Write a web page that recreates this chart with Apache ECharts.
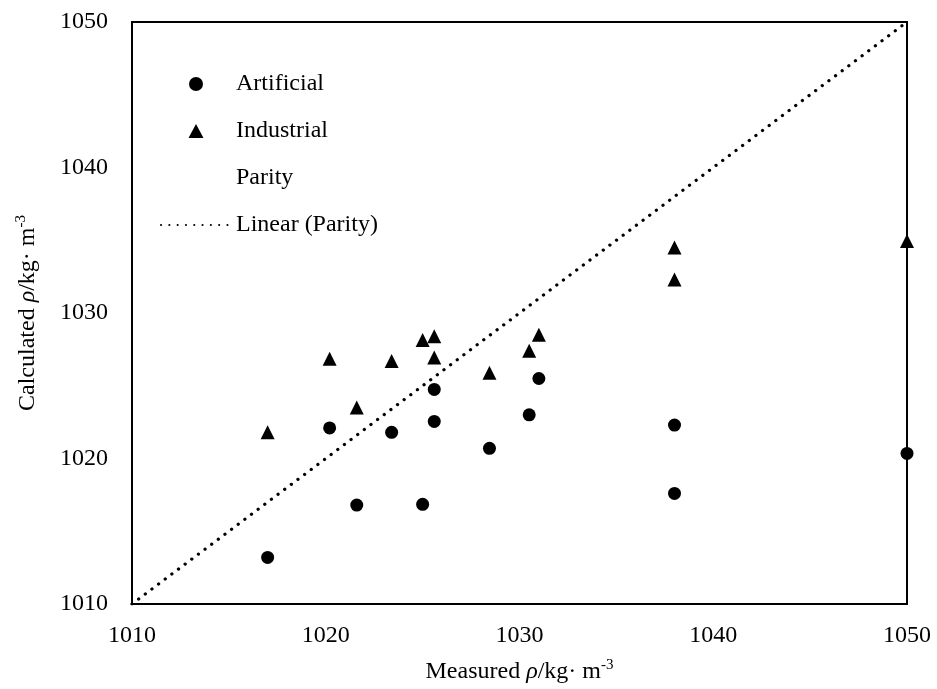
<!DOCTYPE html>
<html>
<head>
<meta charset="utf-8">
<title>Calculated vs measured density</title>
<script src="https://cdn.jsdelivr.net/npm/echarts@6/dist/echarts.min.js"></script>
<style>
  html, body { margin: 0; padding: 0; background: #fff; }
  #chart { width: 937px; height: 689px; }
</style>
</head>
<body>
<div id="chart"></div>
<script>
// Measured density of each sample (kg/m3), shared by both sample sets
const measured = [1017.0, 1020.2, 1021.6, 1023.4, 1025.0, 1025.6, 1025.6, 1028.45, 1030.5, 1031.0, 1038.0, 1038.0, 1050.0];
// Calculated density, artificial samples
const artificial = [1013.2, 1022.1, 1016.8, 1021.8, 1016.85, 1024.75, 1022.55, 1020.7, 1023.0, 1025.5, 1022.3, 1017.6, 1020.35];
// Calculated density, industrial samples
const industrial = [1021.8, 1026.85, 1023.5, 1026.7, 1028.15, 1028.4, 1026.95, 1025.9, 1027.4, 1028.5, 1034.5, 1032.3, 1034.95];
// Parity points (y = x) and the linear trend through them
const parityX = [1010, 1050];
const parityY = [1010, 1050];
// Axis ticks
const axisMin = 1010, axisMax = 1050, axisStep = 10;

const FONT = "'Liberation Serif', 'Times New Roman', serif";

const pairs = (xs, ys) => xs.map((x, i) => [x, ys[i]]);

// Legend key for the triangles: a 15px triangle centred in a 70x14 box
// (empty corner segments keep the box wide so the triangle is not stretched)
const TRIANGLE_KEY = 'path://M0,0L0,0ZM27.5,14L35,0L42.5,14ZM70,14L70,14Z';

const titleRich = {
  a: { fontFamily: FONT, fontSize: 24, color: '#000', lineHeight: 28 },
  i: { fontFamily: FONT, fontSize: 24, color: '#000', fontStyle: 'italic', lineHeight: 28 },
  s: { fontFamily: FONT, fontSize: 15, color: '#000', verticalAlign: 'top', lineHeight: 14 }
};

const tickLabel = {
  fontFamily: FONT, fontSize: 24, color: '#000',
  formatter: (v) => String(v)
};

const chart = echarts.init(document.getElementById('chart'), null, { renderer: 'canvas' });

chart.setOption({
  backgroundColor: '#fff',
  animation: false,
  grid: {
    left: 132, right: 30, top: 22, bottom: 83,
    show: true, borderColor: '#000', borderWidth: 2, backgroundColor: 'transparent'
  },
  legend: {
    orient: 'vertical',
    left: 155,
    top: 67,
    itemWidth: 70,
    itemHeight: 14,
    itemGap: 23,
    textStyle: { fontFamily: FONT, fontSize: 24, color: '#000', lineHeight: 24 },
    data: [
      'Artificial',
      { name: 'Industrial', icon: TRIANGLE_KEY },
      'Parity',
      { name: 'Linear (Parity)', itemStyle: { opacity: 0 } }
    ]
  },
  xAxis: {
    type: 'value',
    min: axisMin, max: axisMax, interval: axisStep,
    name: '{a|Measured }{i|ρ}{a|/kg· m}{s|-3}',
    nameLocation: 'middle',
    nameGap: 54,
    nameTextStyle: { rich: titleRich },
    axisLine: { show: true, lineStyle: { color: '#000', width: 2 } },
    axisTick: { show: false },
    splitLine: { show: false },
    axisLabel: Object.assign({ margin: 20 }, tickLabel)
  },
  yAxis: {
    type: 'value',
    min: axisMin, max: axisMax, interval: axisStep,
    name: '{a|Calculated }{i|ρ}{a|/kg· m}{s|-3}',
    nameLocation: 'middle',
    nameRotate: 90,
    nameGap: 90,
    nameTextStyle: { rich: titleRich },
    axisLine: { show: true, lineStyle: { color: '#000', width: 2 } },
    axisTick: { show: false },
    splitLine: { show: false },
    axisLabel: Object.assign({ margin: 24 }, tickLabel)
  },
  series: [
    {
      name: 'Artificial',
      type: 'scatter',
      symbol: 'circle',
      symbolSize: 13,
      itemStyle: { color: '#000', opacity: 1 },
      data: pairs(measured, artificial),
      z: 5
    },
    {
      name: 'Industrial',
      type: 'scatter',
      symbol: 'triangle',
      symbolSize: 14,
      itemStyle: { color: '#000', opacity: 1 },
      data: pairs(measured, industrial),
      z: 5
    },
    {
      name: 'Parity',
      type: 'line',
      symbol: 'none',
      lineStyle: { opacity: 0 },
      itemStyle: { opacity: 0 },
      data: pairs(parityX, parityY),
      z: 1
    },
    {
      name: 'Linear (Parity)',
      type: 'line',
      symbol: 'none',
      itemStyle: { color: '#000' },
      lineStyle: { color: '#000', width: 3.2, type: [0.1, 8.2], cap: 'round' },
      data: pairs(parityX, parityY),
      z: 2
    }
  ]
});
</script>
</body>
</html>
